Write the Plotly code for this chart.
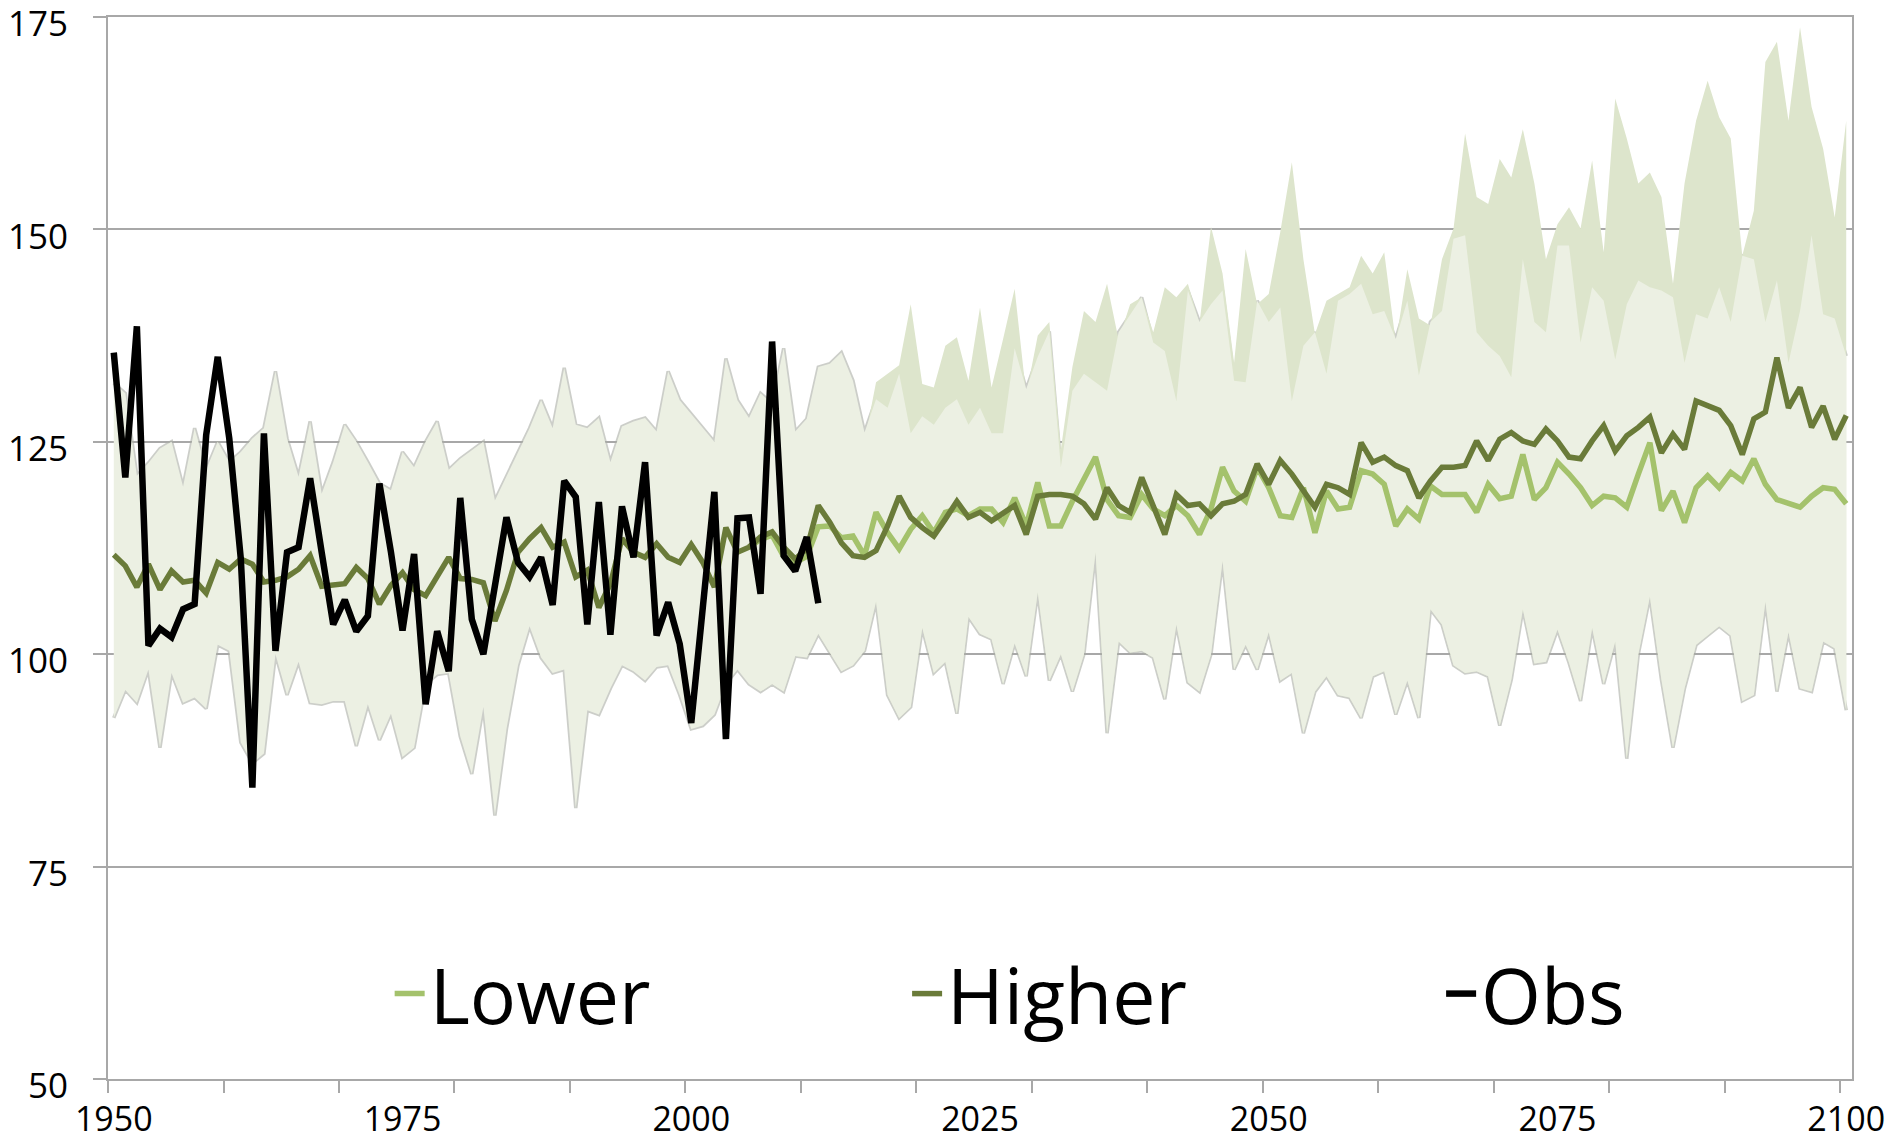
import plotly.graph_objects as go

START_YEAR = 1950
END_YEAR = 2100
years = list(range(START_YEAR, END_YEAR + 1))

# Observed (1950-2011)
obs = [135.5, 120.8, 138.6, 101.0, 103.0, 102.0, 105.3, 105.9, 125.8, 135.0,
       125.4, 111.2, 84.3, 126.0, 100.4, 112.0, 112.6, 120.7, 112.0, 103.5,
       106.4, 102.7, 104.5, 120.1, 112.0, 102.8, 111.8, 94.1, 102.7, 98.0,
       118.4, 104.1, 100.0, 108.0, 116.1, 110.8, 109.1, 111.4, 105.8, 120.4,
       118.5, 103.5, 117.9, 102.3, 117.4, 111.4, 122.6, 102.2, 106.1, 101.2,
       91.9, 105.5, 119.1, 90.0, 116.0, 116.1, 107.1, 136.8, 111.6, 109.8,
       113.8, 106.0]
obs_years = years[:len(obs)]

# Higher scenario mean (1950-2100)
higher = [111.7, 110.4, 107.9, 110.6, 107.6, 109.8, 108.5, 108.7, 107.2, 110.8,
          110.0, 111.2, 110.6, 108.5, 108.7, 109.1, 110.0, 111.6, 108.0, 108.1,
          108.3, 110.2, 108.9, 105.9, 108.1, 109.6, 107.6, 106.9, 109.1, 111.4,
          108.9, 108.8, 108.4, 103.9, 107.5, 112.0, 113.6, 114.9, 112.6, 113.2,
          109.1, 109.9, 105.5, 108.3, 113.6, 112.0, 111.4, 113.0, 111.4, 110.8,
          112.9, 110.8, 107.9, 114.9, 112.0, 112.6, 113.8, 114.4, 112.6, 111.2,
          112.4, 117.5, 115.5, 113.1, 111.6, 111.4, 112.2, 115.1, 118.6, 116.1,
          114.9, 113.9, 115.9, 118.0, 116.1, 116.7, 115.7, 116.7, 117.5, 114.1,
          118.6, 118.8, 118.8, 118.6, 117.7, 115.9, 119.6, 117.5, 116.7, 120.8,
          117.5, 114.1, 118.8, 117.5, 117.7, 116.3, 117.7, 118.0, 118.8, 122.4,
          120.0, 122.8, 121.2, 119.2, 117.3, 120.0, 119.6, 118.8, 124.9, 122.6,
          123.2, 122.2, 121.6, 118.4, 120.4, 122.0, 122.0, 122.2, 125.1, 122.8,
          125.3, 126.1, 125.1, 124.7, 126.5, 125.1, 123.2, 123.0, 125.1, 126.9,
          123.9, 125.7, 126.7, 127.9, 123.7, 125.9, 124.1, 129.8, 129.2, 128.7,
          126.9, 123.5, 127.7, 128.5, 134.9, 129.0, 131.4, 126.7, 129.2, 125.3,
          128.1]

# Lower scenario mean (2005-2100)
LOWER_START = 2005
lower = [112.6, 113.5, 114.0, 111.5, 110.8,
         111.5, 115.0, 115.1, 113.7, 113.9, 111.6, 116.7, 114.3, 112.4, 114.7,
         116.3, 114.3, 116.7, 117.1, 116.3, 117.1, 117.1, 115.5, 118.4, 115.1,
         120.2, 115.1, 115.1, 118.0, 120.6, 123.2, 118.2, 116.3, 116.1, 118.8,
         117.1, 116.3, 117.5, 116.3, 114.1, 117.1, 122.0, 119.2, 118.0, 122.0,
         119.6, 116.3, 116.1, 119.6, 114.3, 119.2, 117.1, 117.3, 121.6, 121.2,
         120.0, 115.1, 117.1, 115.9, 119.8, 118.8, 118.8, 118.8, 116.7, 120.0,
         118.3, 118.6, 123.5, 118.2, 119.6, 122.6, 121.2, 119.6, 117.5, 118.6,
         118.4, 117.3, 121.2, 124.9, 116.9, 119.2, 115.5, 119.6, 121.0, 119.6,
         121.4, 120.4, 123.0, 120.0, 118.2, 117.7, 117.3, 118.6, 119.6, 119.4,
         117.7]
lower_years = list(range(LOWER_START, LOWER_START + len(lower)))

# Lower scenario range: minimum (1950-2100)
range_min = [92.5, 95.8, 94.3, 98.2, 89.0, 97.8, 94.3, 94.9, 93.6, 101.1,
             100.4, 89.6, 87.2, 88.3, 100.0, 95.2, 99.1, 94.3, 94.1, 94.5,
             94.5, 89.2, 94.1, 89.9, 93.0, 87.9, 89.0, 96.5, 97.6, 97.8,
             90.3, 85.9, 93.8, 81.0, 91.2, 98.7, 103.3, 99.6, 97.8, 98.2,
             81.9, 93.4, 92.9, 96.0, 98.7, 98.0, 96.9, 98.5, 98.7, 95.2,
             91.2, 91.6, 92.9, 96.5, 98.2, 96.5, 95.6, 96.5, 95.6, 99.8,
             99.6, 102.4, 100.2, 98.0, 98.7, 100.4, 106.2, 95.2, 92.5, 93.8,
             103.1, 97.8, 99.1, 93.0, 104.4, 102.4, 101.8, 96.5, 101.3, 97.4,
             107.3, 96.9, 100.0, 95.6, 100.0, 112.0, 90.7, 101.5, 100.2, 100.4,
             99.6, 94.7, 103.5, 96.7, 95.6, 100.0, 111.0, 98.2, 101.1, 98.2,
             102.6, 96.9, 97.8, 90.7, 95.6, 97.4, 95.2, 94.9, 92.5, 97.4,
             98.0, 92.9, 96.9, 92.5, 105.3, 103.5, 98.7, 97.8, 98.0, 97.4,
             91.6, 97.0, 105.3, 98.9, 99.1, 102.9, 99.0, 94.5, 103.1, 96.5,
             101.5, 87.7, 100.0, 106.8, 97.0, 89.0, 96.0, 101.1, 102.2, 103.3,
             102.2, 94.5, 95.2, 106.2, 95.6, 102.6, 96.0, 95.6, 101.5, 100.7,
             93.4]

# Lower scenario range: maximum (1950-2100)
range_max_lower = [131.9, 130.7, 121.0, 122.5, 124.2, 125.0, 119.7, 126.6, 121.7, 125.0,
                   122.6, 123.8, 125.4, 126.6, 133.3, 125.4, 120.9, 127.4, 118.9, 122.6,
                   127.0, 125.0, 122.6, 120.1, 119.3, 123.8, 122.0, 125.0, 127.4, 121.7,
                   123.0, 124.0, 125.0, 118.1, 121.0, 123.8, 126.6, 129.9, 126.6, 133.7,
                   127.0, 126.6, 127.8, 122.6, 126.8, 127.4, 127.8, 126.2, 133.3, 129.9,
                   128.3, 126.6, 125.0, 134.8, 129.9, 127.8, 130.7, 129.5, 136.0, 126.2,
                   127.7, 133.8, 134.2, 135.5, 132.2, 126.1, 130.0, 129.0, 133.0, 126.0,
                   128.0, 127.0, 129.0, 130.0, 127.0, 129.0, 126.0, 126.0, 136.0, 131.2,
                   135.0, 138.0, 122.0, 131.0, 133.0, 132.0, 131.0, 137.9, 140.0, 142.0,
                   136.7, 135.7, 129.8, 142.8, 139.1, 141.2, 142.8, 132.2, 132.0, 141.6,
                   139.1, 140.8, 129.8, 136.3, 137.9, 133.0, 141.6, 142.4, 143.6, 140.0,
                   140.4, 137.1, 141.6, 132.8, 139.1, 140.4, 148.9, 149.3, 137.9, 136.3,
                   135.1, 132.6, 146.5, 139.1, 137.9, 148.1, 148.1, 136.7, 143.2, 141.6,
                   134.7, 141.2, 144.0, 143.2, 142.8, 142.0, 134.3, 140.0, 139.5, 143.2,
                   139.1, 146.9, 146.5, 139.1, 144.0, 134.3, 140.4, 149.3, 140.0, 139.5,
                   135.1]

# Higher scenario range: maximum (2006-2100)
HIGHER_RANGE_START = 2006
range_max_higher = [129.0, 128.5, 135.0, 125.0,
                    127.0, 133.0, 133.0, 134.0, 131.0, 125.0, 132.0, 133.0, 134.0, 141.2,
                    131.8, 131.4, 136.3, 137.3, 132.2, 140.8, 131.4, 137.1, 143.0, 130.5,
                    137.5, 139.1, 124.1, 133.8, 140.4, 139.1, 143.6, 137.0, 141.2, 142.0,
                    137.9, 143.2, 142.0, 143.6, 138.9, 150.3, 144.8, 134.3, 147.7, 141.2,
                    142.4, 149.7, 157.9, 146.5, 137.7, 141.6, 142.4, 143.2, 146.9, 144.8,
                    147.3, 136.7, 145.3, 139.5, 138.7, 146.5, 150.1, 161.3, 153.8, 153.0,
                    158.3, 156.1, 161.8, 155.4, 146.5, 150.6, 152.6, 150.1, 158.1, 147.3,
                    165.4, 160.7, 155.4, 156.7, 153.8, 143.6, 155.4, 162.8, 167.5, 163.2,
                    160.7, 146.9, 152.2, 169.7, 172.1, 162.8, 173.8, 164.4, 159.5, 151.4,
                    162.8]
hr_years = list(range(HIGHER_RANGE_START, HIGHER_RANGE_START + len(range_max_higher)))
hr_base = range_min[HIGHER_RANGE_START - START_YEAR:]

Y_TICKS = [50, 75, 100, 125, 150, 175]
X_LABELS = [1950, 1975, 2000, 2025, 2050, 2075, 2100]
X_MINOR = [1949.5 + 10 * i for i in range(16)]

C_PALE = "#ecf0e3"
C_DARK = "#dde5cc"
C_EDGE = "rgba(170,173,165,0.6)"
C_LOWER = "#a4c26c"
C_HIGHER = "#6a7b39"
C_OBS = "#000000"
C_GRID = "#a8a8a8"
FONT = "Open Sans"
LEGEND_FONT = dict(family=FONT, size=77, color="black")

fig = go.Figure()

# soft grey edges of the lower-scenario band (drawn first, partly covered)
fig.add_trace(go.Scatter(x=years, y=range_min, mode="lines",
                         line=dict(color=C_EDGE, width=3.5), showlegend=False, hoverinfo="skip"))
fig.add_trace(go.Scatter(x=years, y=range_max_lower, mode="lines",
                         line=dict(color=C_EDGE, width=3.5), showlegend=False, hoverinfo="skip"))

# higher scenario range band
fig.add_trace(go.Scatter(x=hr_years, y=hr_base, mode="lines",
                         line=dict(width=0, color=C_DARK), showlegend=False, hoverinfo="skip"))
fig.add_trace(go.Scatter(x=hr_years, y=range_max_higher, mode="lines", fill="tonexty",
                         fillcolor=C_DARK, line=dict(width=0, color=C_DARK),
                         showlegend=False, hoverinfo="skip"))

# lower scenario range band
fig.add_trace(go.Scatter(x=years, y=range_min, mode="lines",
                         line=dict(width=0, color=C_PALE), showlegend=False, hoverinfo="skip"))
fig.add_trace(go.Scatter(x=years, y=range_max_lower, mode="lines", fill="tonexty",
                         fillcolor=C_PALE, line=dict(width=0, color=C_PALE),
                         showlegend=False, hoverinfo="skip"))

# mean lines
fig.add_trace(go.Scatter(x=lower_years, y=lower, mode="lines", name="Lower",
                         line=dict(color=C_LOWER, width=5.5), legend="legend"))
fig.add_trace(go.Scatter(x=years, y=higher, mode="lines", name="Higher",
                         line=dict(color=C_HIGHER, width=5.5), legend="legend2"))
fig.add_trace(go.Scatter(x=obs_years, y=obs, mode="lines", name="Obs",
                         line=dict(color=C_OBS, width=6.5), legend="legend3"))

LEG_Y = 0.08
common_leg = dict(orientation="h", xanchor="left", y=LEG_Y, yanchor="middle",
                  bgcolor="rgba(0,0,0,0)", font=LEGEND_FONT, traceorder="normal")

fig.update_layout(
    width=1892, height=1147,
    margin=dict(l=108, r=40, t=17, b=68, pad=0),
    paper_bgcolor="white", plot_bgcolor="white",
    font=dict(family=FONT, color="black", size=35),
    showlegend=True,
    legend=dict(x=0.1615, **common_leg),
    legend2=dict(x=0.4582, **common_leg),
    legend3=dict(x=0.7644, **common_leg),
    hovermode=False,
)
fig.update_xaxes(
    range=[1949.5, 2100.5], tickmode="array", tickvals=X_LABELS,
    ticktext=[str(v) for v in X_LABELS], ticks="", ticklabelstandoff=9,
    ticklabeloverflow="allow", automargin=False,
    showgrid=False, zeroline=False,
    showline=True, linecolor=C_GRID, linewidth=2, mirror=True,
    tickfont=dict(family=FONT, size=34, color="black"),
    minor=dict(tickmode="array", tickvals=X_MINOR, ticks="outside", ticklen=12,
               tickcolor=C_GRID, tickwidth=2, showgrid=False),
)
fig.update_yaxes(
    range=[50, 175], tickmode="array", tickvals=Y_TICKS,
    ticks="outside", ticklen=13, tickcolor=C_GRID, tickwidth=2, ticklabelstandoff=18,
    ticklabelshift=7,
    ticklabeloverflow="allow", automargin=False,
    showgrid=True, gridcolor=C_GRID, gridwidth=2, zeroline=False,
    showline=True, linecolor=C_GRID, linewidth=2, mirror=True,
    tickfont=dict(family=FONT, size=35, color="black"),
)

fig.write_html("out.html", config={"displayModeBar": False})
